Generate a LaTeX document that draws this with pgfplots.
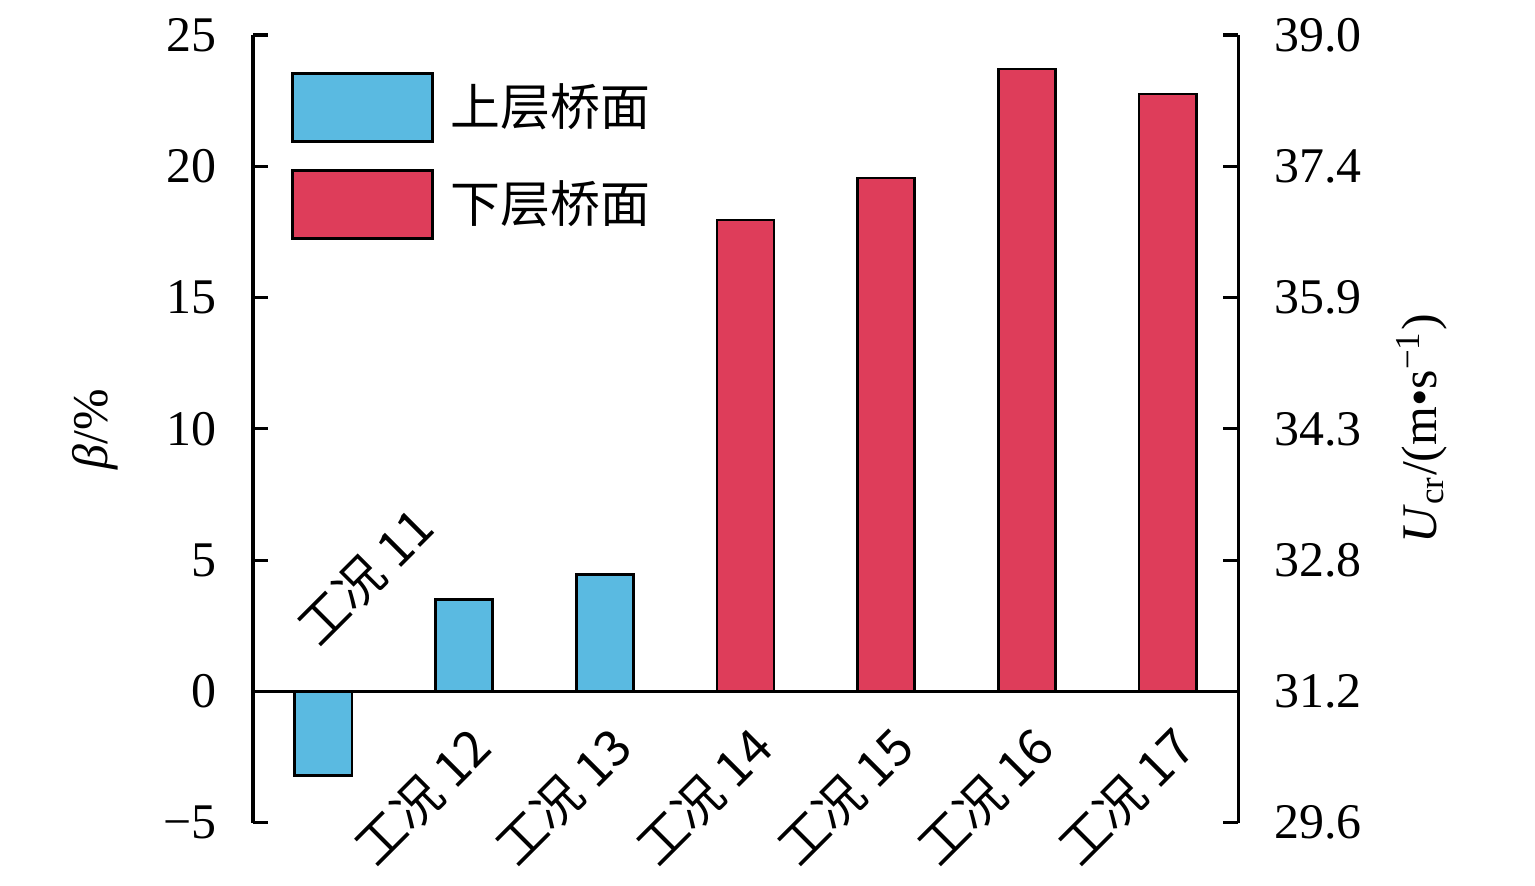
\documentclass[border=0pt]{standalone}
\usepackage{pgfplots}
\pgfplotsset{compat=1.18}
\usepackage{fontspec}
\setmainfont{Liberation Serif}
\newfontfamily\cjk{Noto Sans CJK SC}
\definecolor{upblue}{RGB}{90,186,225}
\definecolor{lowred}{RGB}{222,61,90}
\newcommand{\fs}{\fontsize{13}{15}\selectfont}
\pgfplotsset{mybarlegend/.style={legend image code/.code={\draw[##1] (0pt,-8.85pt) rectangle (36.5pt,8.85pt);}}}
\begin{document}
\begin{tikzpicture}
\begin{axis}[
  width=256.7pt, height=205.3pt, scale only axis,
  xmin=-0.5, xmax=6.5, ymin=-5, ymax=25,
  axis y line*=left, axis x line*=middle,
  xtick=\empty,
  ytick={-5,0,5,10,15,20,25},
  yticklabels={−5,0,5,10,15,20,25},
  yticklabel style={font=\fs, xshift=-6pt},
  ylabel={{\itshape β}/\%},
  ylabel style={at={(rel axis cs:-0.1604,0.5)}, anchor=center, font=\fs},
  axis line style={line width=0.8pt, -},
  major tick style={line width=0.8pt, black},
  major tick length=4pt,
  ybar, bar width=14.9pt,
  legend style={at={(rel axis cs:0.0376,0.954)}, anchor=north west, draw=none, fill=none, inner sep=0pt, row sep=7pt, font=\cjk\fs,
    /tikz/every odd column/.append style={column sep=2.5pt}},
  legend cell align=left,
  clip=false,
]
\addplot[fill=upblue, draw=black, line width=0.7pt, bar shift=0pt, mybarlegend]
  coordinates {(0,-3.2) (1,3.5) (2,4.45)};
\addlegendentry{上层桥面}
\addplot[fill=lowred, draw=black, line width=0.7pt, bar shift=0pt, mybarlegend]
  coordinates {(3,17.95) (4,19.55) (5,23.7) (6,22.75)};
\addlegendentry{下层桥面}
\node[rotate=45, anchor=base west, inner sep=0pt, font=\cjk\fs] at (axis cs:-0.03,1.6) {工况 11};
\node[rotate=45, anchor=base east, inner sep=0pt, font=\cjk\fs] at (axis cs:1.22,-2.25) {工况 12};
\node[rotate=45, anchor=base east, inner sep=0pt, font=\cjk\fs] at (axis cs:2.22,-2.25) {工况 13};
\node[rotate=45, anchor=base east, inner sep=0pt, font=\cjk\fs] at (axis cs:3.22,-2.25) {工况 14};
\node[rotate=45, anchor=base east, inner sep=0pt, font=\cjk\fs] at (axis cs:4.22,-2.25) {工况 15};
\node[rotate=45, anchor=base east, inner sep=0pt, font=\cjk\fs] at (axis cs:5.22,-2.25) {工况 16};
\node[rotate=45, anchor=base east, inner sep=0pt, font=\cjk\fs] at (axis cs:6.22,-2.25) {工况 17};
\coordinate (ll) at (rel axis cs:-0.2569,-0.0800);
\coordinate (ur) at (rel axis cs:1.3015,1.0444);
\end{axis}
\begin{axis}[
  width=256.7pt, height=205.3pt, scale only axis,
  xmin=-0.5, xmax=6.5, ymin=-5, ymax=25,
  axis x line=none, axis y line*=right,
  ytick={-5,0,5,10,15,20,25},
  yticklabels={29.6,31.2,32.8,34.3,35.9,37.4,39.0},
  yticklabel style={font=\fs, xshift=6pt},
  ylabel={\textit{U}\textsubscript{cr}/(m•s\textsuperscript{−1})},
  ylabel style={at={(rel axis cs:1.1868,0.5)}, anchor=center, font=\fs},
  axis line style={line width=0.8pt, -},
  major tick style={line width=0.8pt, black},
  major tick length=4pt,
]
\end{axis}
\pgfresetboundingbox
\path[use as bounding box] (ll) rectangle (ur);
\end{tikzpicture}
\end{document}
